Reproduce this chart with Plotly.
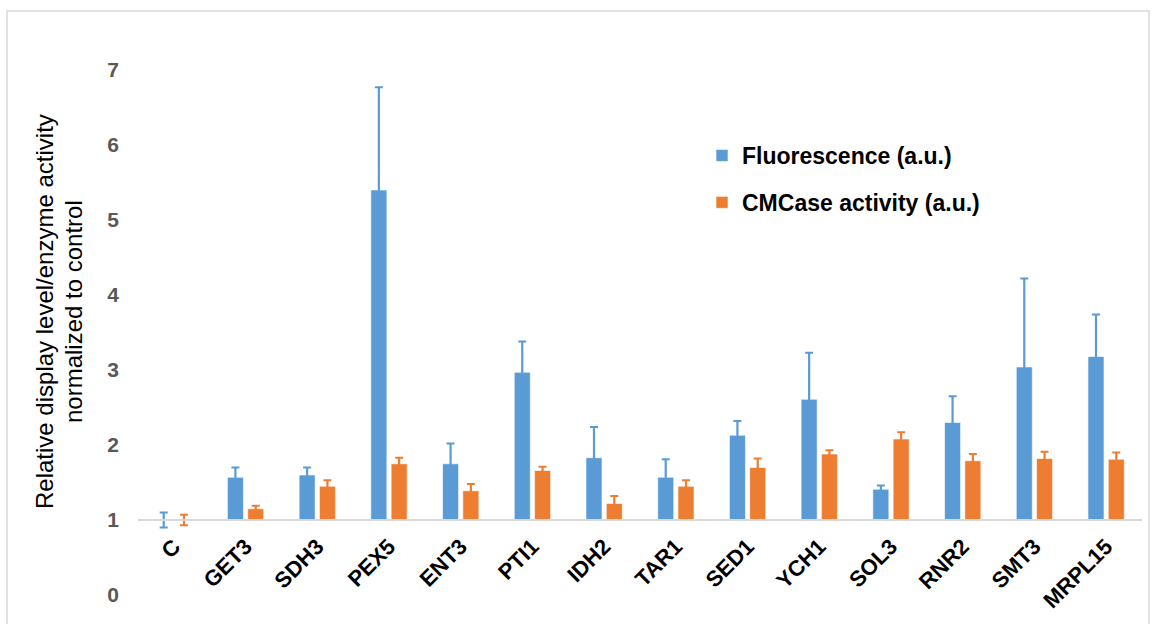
import plotly.graph_objects as go

# Genes tested, with the control "C" first
categories = ["C", "GET3", "SDH3", "PEX5", "ENT3", "PTI1", "IDH2", "TAR1",
              "SED1", "YCH1", "SOL3", "RNR2", "SMT3", "MRPL15"]

# Relative display level (fluorescence) and its error
fluorescence = [1.00, 1.57, 1.60, 5.40, 1.75, 2.97, 1.83, 1.57, 2.13, 2.61, 1.41, 2.30, 3.04, 3.18]
fluorescence_err = [0.10, 0.13, 0.10, 1.37, 0.27, 0.41, 0.41, 0.24, 0.19, 0.62, 0.05, 0.35, 1.18, 0.56]

# Relative CMCase enzyme activity and its error
cmcase = [1.00, 1.15, 1.45, 1.75, 1.39, 1.66, 1.22, 1.45, 1.70, 1.88, 2.08, 1.79, 1.82, 1.81]
cmcase_err = [0.07, 0.04, 0.08, 0.08, 0.09, 0.05, 0.10, 0.08, 0.12, 0.05, 0.09, 0.09, 0.09, 0.09]

series_names = ["Fluorescence (a.u.)", "CMCase activity (a.u.)"]
y_title_lines = ["Relative display level/enzyme activity", "normalized to control"]
BLUE = "#5B9BD5"
ORANGE = "#ED7D31"

# Bars rise from the control level of 1
BASELINE = 1.0

W, H = 1153, 624
ML, MR, MT, MB = 138, 11, 70, 29
plot_w = W - ML - MR
plot_h = H - MT - MB
FONT = "Liberation Sans, Arial, sans-serif"


def px_to_paper_x(px):
    return (px - ML) / plot_w


def px_to_paper_y(py):
    return (H - MB - py) / plot_h


fig = go.Figure()
for name, vals, errs, color in [
    (series_names[0], fluorescence, fluorescence_err, BLUE),
    (series_names[1], cmcase, cmcase_err, ORANGE),
]:
    fig.add_trace(go.Bar(
        name=name,
        legendgroup=name,
        x=categories,
        y=[v - BASELINE for v in vals],
        base=BASELINE,
        marker=dict(color=color, line=dict(color="rgba(255,255,255,0.6)", width=1)),
        error_y=dict(type="data", array=errs, visible=True,
                     color=color, thickness=2.2, width=4),
        customdata=vals,
        hovertemplate="%{x}: %{customdata}<extra>" + name + "</extra>",
    ))

# Two-line vertical axis title, one annotation per line
title_annotations = [
    dict(
        text=line,
        textangle=-90,
        xref="paper", yref="paper",
        x=px_to_paper_x(cx), y=px_to_paper_y(312),
        xanchor="center", yanchor="middle",
        showarrow=False,
        font=dict(family=FONT, size=24, color="#000000"),
    )
    for line, cx in zip(y_title_lines, [44, 73])
]

y_max = 7
fig.update_layout(
    width=W, height=H,
    margin=dict(l=ML, r=MR, t=MT, b=MB, autoexpand=False),
    paper_bgcolor="white",
    plot_bgcolor="white",
    barmode="group",
    bargap=0.434,
    bargroupgap=0.21,
    font=dict(family=FONT, color="#000000"),
    showlegend=True,
    legend=dict(
        x=px_to_paper_x(702), xanchor="left",
        y=px_to_paper_y(134), yanchor="top",
        traceorder="grouped",
        tracegroupgap=14,
        bgcolor="rgba(0,0,0,0)",
        font=dict(family=FONT, size=23, color="#000000", weight="bold"),
    ),
    xaxis=dict(
        type="category",
        anchor="free",
        position=BASELINE / y_max,
        showline=True, linecolor="#d9d9d9", linewidth=2,
        showgrid=False, zeroline=False,
        ticks="",
        tickangle=-45,
        ticklabelstandoff=4,
        tickfont=dict(family=FONT, size=22, color="#000000", weight="bold"),
    ),
    yaxis=dict(
        range=[0, y_max],
        tickvals=list(range(0, y_max + 1)),
        showgrid=False, zeroline=False, showline=False,
        ticks="",
        ticklabelstandoff=18,
        tickfont=dict(family=FONT, size=21, color="#595959", weight="bold"),
    ),
    annotations=title_annotations,
    shapes=[dict(
        type="rect", xref="paper", yref="paper",
        x0=px_to_paper_x(7), x1=px_to_paper_x(1149),
        y0=px_to_paper_y(640), y1=px_to_paper_y(11),
        line=dict(color="#d9d9d9", width=1.5),
        fillcolor="rgba(0,0,0,0)",
        layer="below",
    )],
)

fig.write_html("out.html")
